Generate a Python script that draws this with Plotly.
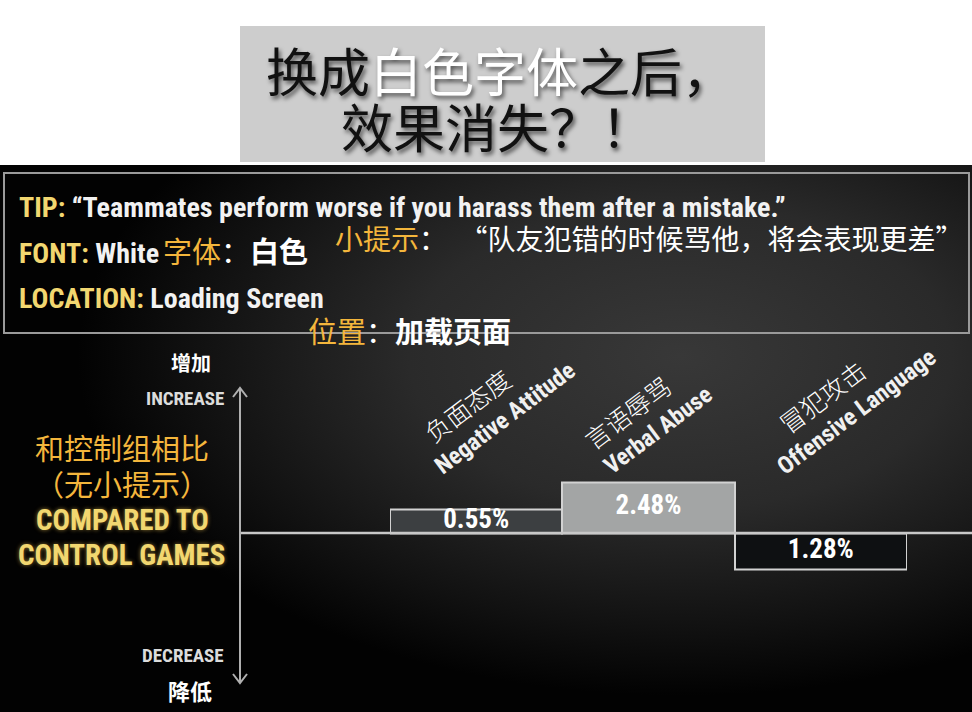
import base64
import numpy as np
import plotly.graph_objects as go

# ---------------- data ----------------
categories = ["Negative Attitude", "Verbal Abuse", "Offensive Language"]
categories_zh = ["负面态度", "言语辱骂", "冒犯攻击"]
change_pct = [0.55, 2.48, -1.28]          # change vs. control games (%)
bar_fill = ["#3c3f41", "#a3a5a5", "#0e1012"]

W, H = 972, 712


def X(px):
    return px / W


def Y(py):
    return 1 - py / H


# signed square-root scale for the bar heights
vals = np.array(change_pct)
bar_h = np.sign(vals) * np.sqrt(np.abs(vals))

EN = "Roboto Condensed, Roboto, Liberation Sans, sans-serif"
ZH = "Noto Sans CJK SC, sans-serif"
YEL = "#f2d770"
ORA = "#f4b63c"
GLOW = "0px 0px 4px rgba(255,210,90,0.55)"

# ---------------- background svg (dark panel) ----------------
svg = """<svg xmlns="http://www.w3.org/2000/svg" width="972" height="547" viewBox="0 0 972 547" preserveAspectRatio="none">
<defs>
<radialGradient id="g" cx="0.70" cy="0.35" r="0.62">
<stop offset="0" stop-color="#383838"/>
<stop offset="0.45" stop-color="#2a2a2a"/>
<stop offset="0.8" stop-color="#111111"/>
<stop offset="1" stop-color="#020202"/>
</radialGradient>
</defs>
<rect width="972" height="547" fill="url(#g)"/>
</svg>"""
svg_uri = "data:image/svg+xml;base64," + base64.b64encode(svg.encode()).decode()

fig = go.Figure()

fig.add_trace(go.Bar(
    x=categories, y=bar_h, width=1,
    marker=dict(color=bar_fill, line=dict(color="#d2d2d2", width=2)),
    hoverinfo="skip", showlegend=False,
))
fig.add_trace(go.Scatter(
    x=categories, y=bar_h / 2, mode="text",
    text=[f"{abs(v):.2f}%" for v in change_pct],
    textfont=dict(family=EN, size=27, color="white", weight="bold"),
    hoverinfo="skip", showlegend=False,
))

# y scale: zero line at pixel 533, 32.4 px per unit, range [-4, 4]
k = 32.4
y_top, y_bot = 533 - 4 * k, 533 + 4 * k

fig.update_layout(
    width=W, height=H, autosize=False,
    margin=dict(l=0, r=0, t=0, b=0),
    paper_bgcolor="white", plot_bgcolor="rgba(0,0,0,0)",
    bargap=0,
    xaxis=dict(domain=[X(390), X(907)], range=[-0.5, 2.5], visible=False, fixedrange=True),
    yaxis=dict(domain=[Y(y_bot), Y(y_top)], range=[-4, 4], visible=False, fixedrange=True),
    images=[dict(source=svg_uri, xref="paper", yref="paper", x=0, y=Y(165),
                 sizex=1, sizey=Y(165), sizing="stretch", xanchor="left",
                 yanchor="top", layer="below")],
)

shapes = []
# grey title box
shapes.append(dict(type="rect", xref="paper", yref="paper", x0=X(240), x1=X(765),
                   y0=Y(162), y1=Y(26), fillcolor="#cdcdcd", line=dict(width=0), layer="below"))
# tip box frame
shapes.append(dict(type="rect", xref="paper", yref="paper", x0=X(4), x1=X(969),
                   y0=Y(333), y1=Y(173), line=dict(color="#9a9a9a", width=2), layer="below"))
# zero line
shapes.append(dict(type="line", xref="paper", yref="paper", x0=X(240), x1=X(972),
                   y0=Y(533), y1=Y(533), line=dict(color="#c8c8c8", width=2.5), layer="above"))
# vertical axis
shapes.append(dict(type="line", xref="paper", yref="paper", x0=X(240), x1=X(240),
                   y0=Y(388), y1=Y(683), line=dict(color="#b0b0b0", width=2), layer="above"))


def chev(pts):
    d = "M " + " L ".join(f"{X(a):.5f},{Y(b):.5f}" for a, b in pts)
    return dict(type="path", xref="paper", yref="paper", path=d,
                line=dict(color="#b0b0b0", width=2), layer="above")


shapes.append(chev([(233, 397), (240, 388), (247, 397)]))
shapes.append(chev([(233, 674), (240, 683), (247, 674)]))
fig.update_layout(shapes=shapes)

ann = []


def A(text, x, y, size, family, color="white", xanchor="center", yanchor="middle",
      weight="normal", angle=0, shadow=None):
    f = dict(family=family, size=size, color=color, weight=weight)
    if shadow:
        f["shadow"] = shadow
    ann.append(dict(text=text, x=X(x), y=Y(y), xref="paper", yref="paper",
                    xanchor=xanchor, yanchor=yanchor, showarrow=False, font=f,
                    textangle=angle))


# title
TSH = "2px 3px 4px rgba(0,0,0,0.6)"
A("换成<span style='color:#ffffff'>白色字体</span>之后，", 500, 69, 52, ZH, "#111111", shadow=TSH)
A("效果消失？！", 497, 126, 52, ZH, "#111111", shadow=TSH)

# tip box texts
A(f"<span style='color:{YEL}'>TIP:</span> “Teammates perform worse if you harass them after a mistake.”",
  17, 207, 28, EN, "#f2f2f2", xanchor="left", weight="bold")
A(f"<span style='color:{YEL}'>FONT:</span> White", 17, 253, 28, EN, "#f2f2f2", xanchor="left", weight="bold")
A(f"<span style='color:{YEL}'>LOCATION:</span> Loading Screen", 17, 298, 28, EN, "#f2f2f2",
  xanchor="left", weight="bold")
A(f"<span style='color:{ORA}'>字体</span>：<b>白色</b>", 161, 250, 29, ZH, "white", xanchor="left")
A(f"<span style='color:{ORA}'>小提示</span>：  “队友犯错的时候骂他，将会表现更差”", 333, 238, 28, ZH,
  "white", xanchor="left")
A(f"<span style='color:{ORA}'>位置</span>：<b>加载页面</b>", 306, 330, 29, ZH, "white", xanchor="left")

# left side labels
A("<b>增加</b>", 191, 362, 20, ZH, "white")
A("INCREASE", 226, 398, 19, EN, "#dcdcdc", xanchor="right", weight="bold")
A("和控制组相比", 122, 447, 29, ZH, ORA)
A("（无小提示）", 122, 483, 29, ZH, ORA)
A("COMPARED TO", 122, 520, 29, EN, YEL, weight="bold", shadow=GLOW)
A("CONTROL GAMES", 121, 555, 29, EN, YEL, weight="bold", shadow=GLOW)
A("DECREASE", 226, 655, 19, EN, "#dcdcdc", xanchor="right", weight="bold")
A("<b>降低</b>", 190, 690, 22, ZH, "white")

# rotated category labels
zh_pos = [(467, 405), (627, 412), (822, 396)]
en_pos = [(505, 418), (658, 430), (856, 412)]
for zh, en, (zx, zy), (ex, ey) in zip(categories_zh, categories, zh_pos, en_pos):
    A(zh, zx, zy, 25, ZH, "white", angle=-37, weight=300)
    A(en, ex, ey, 24, EN, "#f0f0f0", weight="bold", angle=-37)

fig.update_layout(annotations=ann)
fig.write_html("out.html", config={"displayModeBar": False},
               post_script="document.body.style.margin='0px';document.body.style.overflow='hidden';")
